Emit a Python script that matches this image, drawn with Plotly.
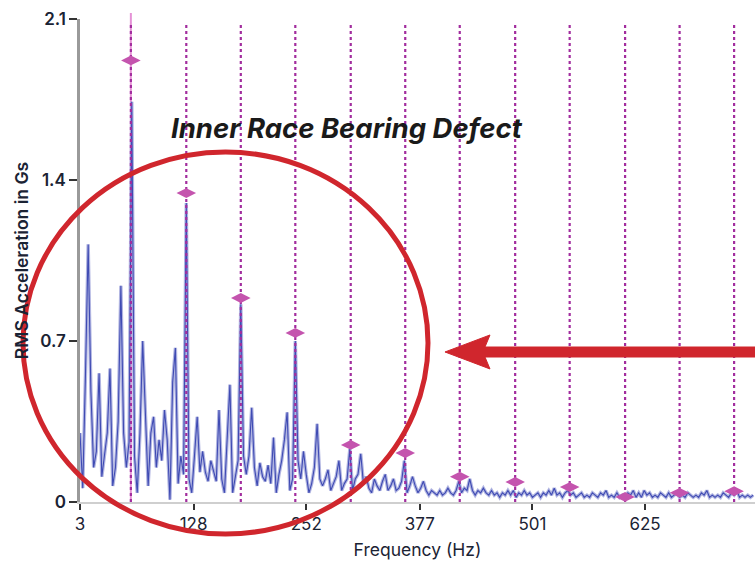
import plotly.graph_objects as go

# ---------------- data ----------------
freq_hz = [
    3, 6, 9, 12, 15, 18, 21, 24, 27, 30, 33, 36,
    39, 42, 45, 48, 51, 54, 57, 60, 63, 66, 69, 72,
    75, 78, 81, 84, 87, 90, 93, 96, 99, 102, 105, 108,
    111, 114, 117, 120, 123, 126, 129, 132, 135, 138, 141, 144,
    147, 150, 153, 156, 159, 162, 165, 168, 171, 174, 177, 180,
    183, 186, 189, 192, 195, 198, 201, 204, 207, 210, 213, 216,
    219, 222, 225, 228, 231, 234, 237, 240, 243, 246, 249, 252,
    255, 258, 261, 264, 267, 270, 273, 276, 279, 282, 285, 288,
    291, 294, 297, 300, 303, 306, 309, 312, 315, 318, 321, 324,
    327, 330, 333, 336, 339, 342, 345, 348, 351, 354, 357, 360,
    363, 366, 369, 372, 375, 378, 381, 384, 387, 390, 393, 396,
    399, 402, 405, 408, 411, 414, 417, 420, 423, 426, 429, 432,
    435, 438, 441, 444, 447, 450, 453, 456, 459, 462, 465, 468,
    471, 474, 477, 480, 483, 486, 489, 492, 495, 498, 501, 504,
    507, 510, 513, 516, 519, 522, 525, 528, 531, 534, 537, 540,
    543, 546, 549, 552, 555, 558, 561, 564, 567, 570, 573, 576,
    579, 582, 585, 588, 591, 594, 597, 600, 603, 606, 609, 612,
    615, 618, 621, 624, 627, 630, 633, 636, 639, 642, 645, 648,
    651, 654, 657, 660, 663, 666, 669, 672, 675, 678, 681, 684,
    687, 690, 693, 696, 699, 702, 705, 708, 711, 714, 717, 720,
    723, 726, 729, 732, 735, 738, 741, 744,
]

rms_g = [
    0.30, 0.06, 0.55, 1.12, 0.48, 0.15, 0.22, 0.56, 0.11, 0.21, 0.30, 0.58,
    0.07, 0.15, 0.35, 0.94, 0.30, 0.15, 0.26, 1.74, 0.20, 0.04, 0.30, 0.70,
    0.40, 0.07, 0.30, 0.37, 0.15, 0.27, 0.18, 0.40, 0.27, 0.01, 0.52, 0.67,
    0.08, 0.20, 0.12, 1.30, 0.10, 0.04, 0.20, 0.37, 0.13, 0.22, 0.13, 0.09,
    0.18, 0.14, 0.09, 0.40, 0.10, 0.04, 0.25, 0.51, 0.04, 0.12, 0.18, 0.86,
    0.20, 0.12, 0.20, 0.41, 0.15, 0.07, 0.17, 0.11, 0.09, 0.16, 0.08, 0.28,
    0.04, 0.12, 0.18, 0.27, 0.39, 0.05, 0.10, 0.70, 0.18, 0.10, 0.22, 0.12,
    0.04, 0.08, 0.15, 0.34, 0.10, 0.07, 0.10, 0.14, 0.05, 0.08, 0.11, 0.18,
    0.05, 0.08, 0.10, 0.23, 0.05, 0.10, 0.12, 0.21, 0.08, 0.11, 0.06, 0.04,
    0.10, 0.07, 0.05, 0.09, 0.12, 0.05, 0.07, 0.10, 0.05, 0.06, 0.09, 0.18,
    0.04, 0.07, 0.11, 0.07, 0.04, 0.06, 0.09, 0.05, 0.03, 0.05, 0.04, 0.03,
    0.05, 0.03, 0.04, 0.06, 0.04, 0.03, 0.05, 0.09, 0.04, 0.06, 0.05, 0.10,
    0.05, 0.03, 0.05, 0.04, 0.06, 0.04, 0.03, 0.05, 0.03, 0.04, 0.02, 0.04,
    0.03, 0.05, 0.03, 0.05, 0.02, 0.04, 0.03, 0.05, 0.03, 0.04, 0.02, 0.03,
    0.04, 0.02, 0.04, 0.03, 0.05, 0.03, 0.06, 0.03, 0.04, 0.02, 0.04, 0.05,
    0.03, 0.04, 0.02, 0.03, 0.04, 0.02, 0.03, 0.02, 0.04, 0.03, 0.02, 0.04,
    0.03, 0.05, 0.02, 0.03, 0.02, 0.04, 0.02, 0.03, 0.02, 0.04, 0.03, 0.05,
    0.02, 0.04, 0.02, 0.05, 0.03, 0.04, 0.02, 0.03, 0.02, 0.04, 0.03, 0.02,
    0.04, 0.02, 0.03, 0.04, 0.02, 0.03, 0.02, 0.04, 0.03, 0.02, 0.03, 0.02,
    0.04, 0.03, 0.05, 0.02, 0.03, 0.02, 0.03, 0.02, 0.04, 0.03, 0.02, 0.04,
    0.03, 0.05, 0.02, 0.03, 0.02, 0.03, 0.02, 0.03,
]

harmonic_hz = [59, 120, 180, 240, 301, 361, 421, 482, 542, 603, 663, 723]
harmonic_g = [1.92, 1.343, 0.887, 0.735, 0.248, 0.213, 0.11, 0.087, 0.065, 0.022, 0.04, 0.047]

x_tick_vals = [3, 128, 252, 377, 501, 625]
y_tick_vals = [0, 0.7, 1.4, 2.1]
y_tick_text = ["0", "0.7", "1.4", "2.1"]

title_text = "Inner Race Bearing Defect"
x_title = "Frequency (Hz)"
y_title = "RMS Acceleration in Gs"

# ---------------- figure ----------------
X_RANGE = [3, 746]
Y_RANGE = [0, 2.1]
HARM_TOP = 2.087

fig = go.Figure()

# light halo of the spectrum line
fig.add_trace(go.Scatter(
    x=freq_hz, y=rms_g, mode="lines",
    line=dict(color="rgba(150,155,215,0.75)", width=3.4),
    hoverinfo="skip", showlegend=False,
))
# darker core of the spectrum line
fig.add_trace(go.Scatter(
    x=freq_hz, y=rms_g, mode="lines",
    line=dict(color="#3F4BB3", width=1.1),
    showlegend=False,
))

# dotted harmonic cursor lines
hx, hy = [], []
for h in harmonic_hz:
    hx += [h, h, None]
    hy += [0, HARM_TOP, None]
fig.add_trace(go.Scatter(
    x=hx, y=hy, mode="lines",
    line=dict(color="#A22D9E", width=2.2, dash="dot"),
    hoverinfo="skip", showlegend=False,
))

# harmonic peak markers
fig.add_trace(go.Scatter(
    x=harmonic_hz, y=harmonic_g, mode="markers",
    marker=dict(symbol="diamond-wide", size=14, color="#C454AE",
                line=dict(width=0)),
    showlegend=False,
))

def px_to_paper_x(px):
    return (px - 80) / 675

def px_to_paper_y(py):
    return (502 - py) / 483

shapes = []
# solid light line at the fundamental, reaching above the plot
shapes.append(dict(
    type="line", xref="x", yref="paper",
    x0=harmonic_hz[0], x1=harmonic_hz[0], y0=0, y1=px_to_paper_y(13),
    line=dict(color="rgba(220,110,200,0.75)", width=2), layer="below",
))
# red circle
shapes.append(dict(
    type="circle", xref="paper", yref="paper",
    x0=px_to_paper_x(23), x1=px_to_paper_x(428),
    y0=px_to_paper_y(534), y1=px_to_paper_y(152),
    line=dict(color="#D0262D", width=5), layer="above",
))
# red arrow
pts = [(445, 352), (490, 335), (485, 347), (755, 347), (755, 357), (485, 357), (490, 369)]
path = "M " + " L ".join(f"{px_to_paper_x(a):.4f},{px_to_paper_y(b):.4f}" for a, b in pts) + " Z"
shapes.append(dict(
    type="path", xref="paper", yref="paper", path=path,
    fillcolor="#D0262D", line=dict(color="#D0262D", width=1), layer="above",
))

fig.update_layout(
    width=755, height=563,
    margin=dict(l=80, r=0, t=19, b=61, autoexpand=False),
    paper_bgcolor="white", plot_bgcolor="white",
    font=dict(family="Inter, Roboto, sans-serif", color="#1B2334"),
    shapes=shapes,
    showlegend=False,
    annotations=[dict(
        text=f"<b><i>{title_text}</i></b>",
        x=px_to_paper_x(347), y=px_to_paper_y(128),
        xref="paper", yref="paper", xanchor="center", yanchor="middle",
        showarrow=False,
        font=dict(size=27.5, color="#1A1A1A", family="Inter, Roboto, sans-serif", weight=800),
    )],
)

fig.update_xaxes(
    range=X_RANGE, tickmode="array", tickvals=x_tick_vals,
    ticks="outside", ticklen=6, tickwidth=1.5, tickcolor="#333333",
    showline=True, linecolor="#CFCFCF", linewidth=2,
    showgrid=False, zeroline=False, automargin=False,
    tickfont=dict(size=17, color="#1B2334"),
    title=dict(text=x_title, font=dict(size=17.5, color="#1B2334"), standoff=10),
)
fig.update_yaxes(
    range=Y_RANGE, tickmode="array", tickvals=y_tick_vals, ticktext=y_tick_text,
    ticks="outside", ticklen=8, tickwidth=1.5, tickcolor="#333333",
    showline=True, linecolor="#9A9A9A", linewidth=2.5,
    showgrid=False, zeroline=False, automargin=False,
    tickfont=dict(size=17, color="#1B2334", weight=600),
    title=dict(text=y_title, font=dict(size=17.5, color="#1B2334", weight=600), standoff=8),
)

fig.write_html(
    "out.html",
    config={"displayModeBar": False},
    post_script="document.body.style.margin='0';document.body.style.overflow='hidden';",
)
